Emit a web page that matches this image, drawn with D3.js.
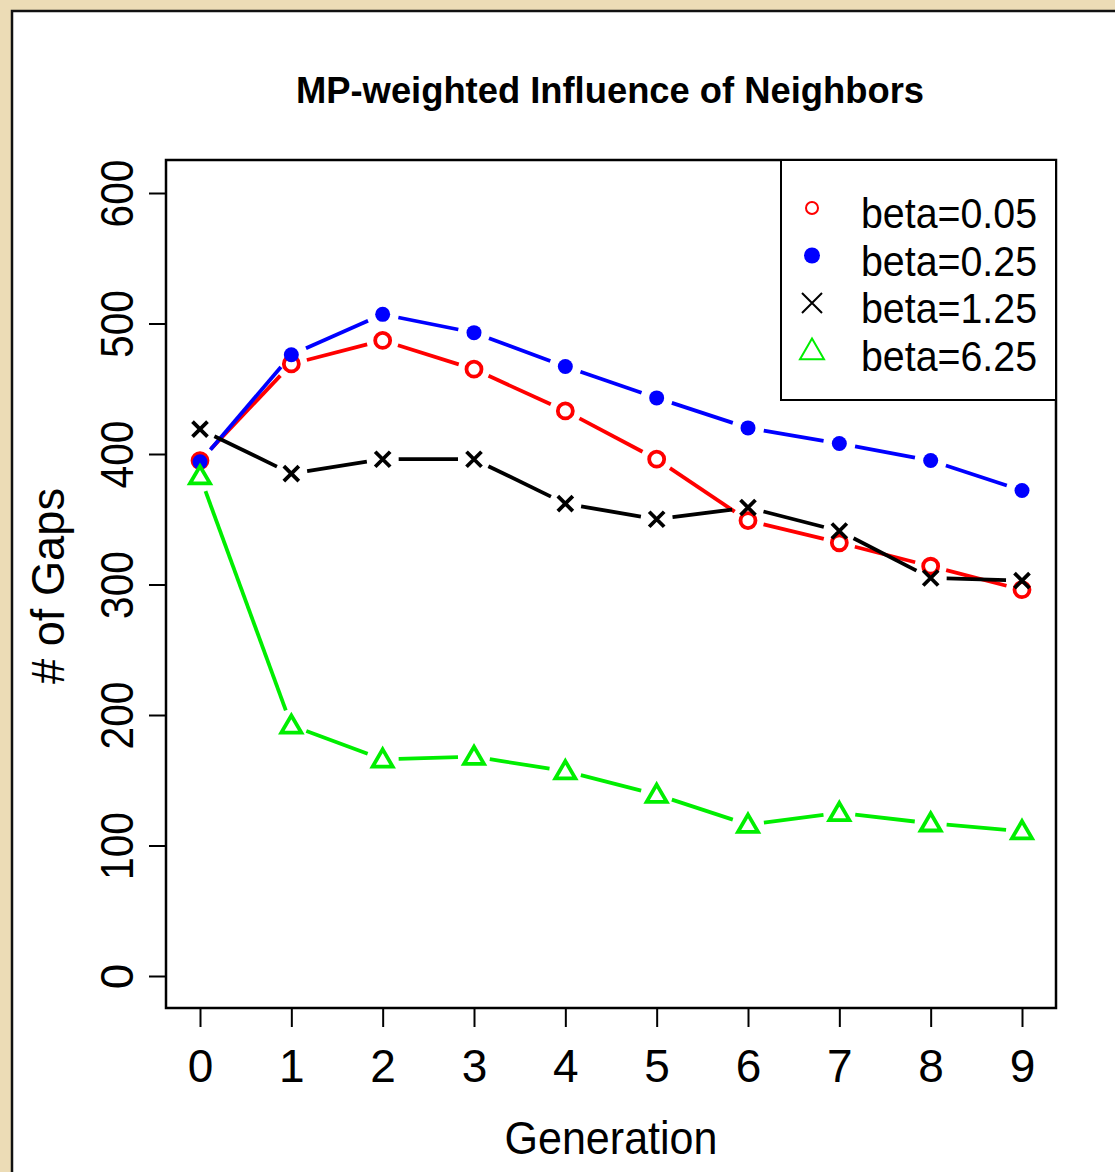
<!DOCTYPE html>
<html>
<head>
<meta charset="utf-8">
<script src="https://cdn.jsdelivr.net/npm/d3@7"></script>
<style>
  body { margin: 0; background: #ecdcb6; }
  svg { display: block; }
  text { font-family: "Liberation Sans", Arial, sans-serif; fill: #000; }
</style>
</head>
<body>
<div id="chart"></div>
<script>
// data
const generations = [0, 1, 2, 3, 4, 5, 6, 7, 8, 9];
const beta005 = [395, 469, 487, 465, 433, 396, 349, 332, 314, 296];
const beta025 = [394, 476, 507, 493, 467, 443, 420, 408, 395, 372];
const beta125 = [419, 385, 396, 396, 362, 350, 359, 341, 305, 303];
const beta625 = [383, 192, 166, 168, 157, 139, 116, 125, 117, 111];
const yTicks = [0, 100, 200, 300, 400, 500, 600];
const seriesNames = ["beta=0.05", "beta=0.25", "beta=1.25", "beta=6.25"];

const series = [
  { name: seriesNames[0], values: beta005, color: "#ff0000", shape: "circle" },
  { name: seriesNames[1], values: beta025, color: "#0000ff", shape: "dot" },
  { name: seriesNames[2], values: beta125, color: "#000000", shape: "cross" },
  { name: seriesNames[3], values: beta625, color: "#00ee00", shape: "triangle" }
];

const W = 1115, H = 1172;
const box = { left: 166, top: 160, right: 1056, bottom: 1008 };

const svg = d3.select("#chart").append("svg")
  .attr("width", W)
  .attr("height", H);

// parchment background + white panel
svg.append("rect").attr("width", W).attr("height", H).attr("fill", "#ecdcb6");
svg.append("rect")
  .attr("x", 12).attr("y", 11)
  .attr("width", W).attr("height", H)
  .attr("fill", "#fff")
  .attr("stroke", "#111")
  .attr("stroke-width", 2.5);

const x = d3.scaleLinear().domain([0, 9]).range([200, 1022]);
const y = d3.scaleLinear().domain([0, 600]).range([976, 193]);

// title
svg.append("text")
  .attr("x", 610).attr("y", 103)
  .attr("text-anchor", "middle")
  .attr("font-weight", "bold")
  .attr("font-size", 36)
  .attr("textLength", 628)
  .attr("lengthAdjust", "spacingAndGlyphs")
  .text("MP-weighted Influence of Neighbors");

// axes
const gx = svg.append("g")
  .attr("transform", `translate(0,${box.bottom})`)
  .call(d3.axisBottom(x).tickValues(generations).tickSize(19).tickPadding(0).tickFormat(d3.format("d")));
gx.select(".domain").remove();
gx.selectAll("line").attr("stroke-width", 2);
gx.selectAll("text")
  .attr("y", 74).attr("dy", 0)
  .attr("font-size", 46);

const gy = svg.append("g")
  .attr("transform", `translate(${box.left},0)`)
  .call(d3.axisLeft(y).tickValues(yTicks).tickSize(17).tickFormat(d3.format("d")));
gy.select(".domain").remove();
gy.selectAll("line").attr("stroke-width", 2);
gy.selectAll("text")
  .attr("x", 0).attr("y", 0).attr("dy", 0)
  .attr("text-anchor", "middle")
  .attr("transform", "translate(-33,0) rotate(-90)")
  .attr("font-size", 46)
  .each(function(d) {
    if (d >= 100) d3.select(this).attr("textLength", 68).attr("lengthAdjust", "spacingAndGlyphs");
  });

// axis titles
svg.append("text")
  .attr("x", 611).attr("y", 1154)
  .attr("text-anchor", "middle")
  .attr("font-size", 46)
  .attr("textLength", 213)
  .attr("lengthAdjust", "spacingAndGlyphs")
  .text("Generation");

svg.append("text")
  .attr("transform", "translate(64,586) rotate(-90)")
  .attr("text-anchor", "middle")
  .attr("font-size", 46)
  .attr("textLength", 196)
  .attr("lengthAdjust", "spacingAndGlyphs")
  .text("# of Gaps");

// plot box
svg.append("rect")
  .attr("x", box.left).attr("y", box.top)
  .attr("width", box.right - box.left).attr("height", box.bottom - box.top)
  .attr("fill", "none").attr("stroke", "#000").attr("stroke-width", 2.5);

// marker drawing: size = half-width of the symbol
function drawMarker(g, shape, color, size, sw) {
  if (shape === "circle") {
    g.append("circle").attr("r", size).attr("fill", "none").attr("stroke", color).attr("stroke-width", sw);
  } else if (shape === "dot") {
    g.append("circle").attr("r", size).attr("fill", color);
  } else if (shape === "cross") {
    const s = size;
    g.append("path").attr("d", `M${-s},${-s}L${s},${s}M${-s},${s}L${s},${-s}`)
      .attr("stroke", color).attr("stroke-width", sw).attr("fill", "none");
  } else if (shape === "triangle") {
    const s = size;
    g.append("path").attr("d", `M0,${-s}L${s},${s * 0.72}L${-s},${s * 0.72}Z`)
      .attr("stroke", color).attr("stroke-width", sw).attr("fill", "none");
  }
}

const plotSize = { circle: 7.5, dot: 7.5, cross: 7.5, triangle: 10 };
const legendSize = { circle: 6, dot: 8, cross: 10, triangle: 12 };

// lines with gaps around points (R type="b")
const gap = 16;
series.forEach(s => {
  const pts = generations.map((g, i) => [x(g), y(s.values[i])]);
  const segs = [];
  for (let i = 0; i < pts.length - 1; i++) {
    const [x0, y0] = pts[i], [x1, y1] = pts[i + 1];
    const len = Math.hypot(x1 - x0, y1 - y0);
    if (len <= 2 * gap) continue;
    const ux = (x1 - x0) / len, uy = (y1 - y0) / len;
    segs.push([[x0 + ux * gap, y0 + uy * gap], [x1 - ux * gap, y1 - uy * gap]]);
  }
  svg.append("g").selectAll("path")
    .data(segs)
    .enter().append("path")
    .attr("d", d => d3.line()(d))
    .attr("stroke", s.color)
    .attr("stroke-width", 3.8)
    .attr("fill", "none");

  svg.append("g").selectAll("g")
    .data(pts)
    .enter().append("g")
    .attr("transform", d => `translate(${d[0]},${d[1]})`)
    .each(function() { drawMarker(d3.select(this), s.shape, s.color, plotSize[s.shape], 3.8); });
});

// legend
svg.append("rect")
  .attr("x", 781).attr("y", box.top)
  .attr("width", box.right - 781).attr("height", 400 - box.top)
  .attr("fill", "#fff").attr("stroke", "#000").attr("stroke-width", 2);

const legend = svg.append("g").selectAll("g")
  .data(series)
  .enter().append("g")
  .attr("transform", (d, i) => `translate(812,${208 + i * 47.5})`);

legend.each(function(d) {
  drawMarker(d3.select(this), d.shape, d.color, legendSize[d.shape], 2);
});

legend.append("text")
  .attr("x", 49).attr("y", 20)
  .attr("font-size", 42)
  .attr("textLength", 176)
  .attr("lengthAdjust", "spacingAndGlyphs")
  .text(d => d.name);
</script>
</body>
</html>
